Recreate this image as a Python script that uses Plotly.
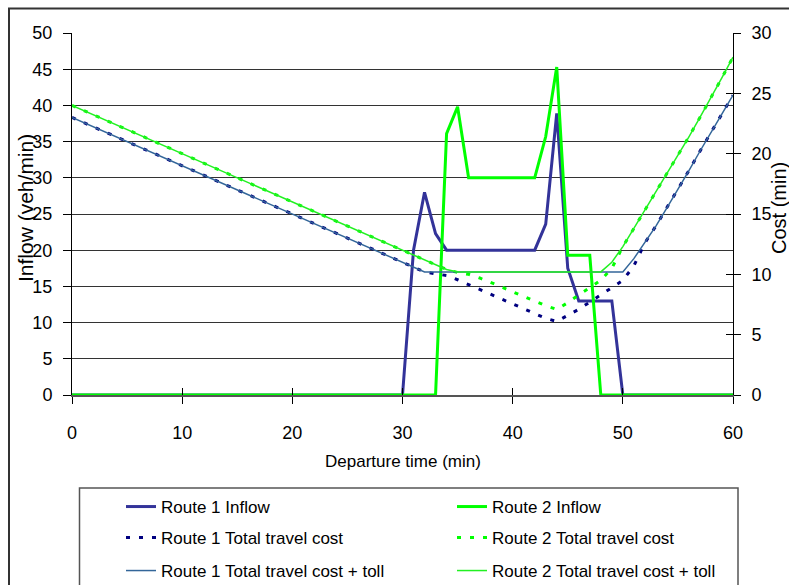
import plotly.graph_objects as go

# ---------------- data ----------------
departure_time = list(range(0, 61))

route1_inflow = [0]*31 + [20, 28, 22.3, 20, 20, 20, 20, 20, 20, 20, 20, 20, 23.6, 38.9, 17.5,
                          13, 13, 13, 13, 0, 0, 0, 0, 0, 0, 0, 0, 0, 0, 0]
route2_inflow = [0]*34 + [36.1, 39.8, 30, 30, 30, 30, 30, 30, 30, 35.7, 45.3, 19.3, 19.3, 19.3,
                          0, 0, 0, 0, 0, 0, 0, 0, 0, 0, 0, 0, 0]

route1_cost = [23.0, 22.6, 22.2, 21.8, 21.4, 21.0, 20.6, 20.2, 19.8, 19.4,
               19.0, 18.6, 18.2, 17.8, 17.4, 17.0, 16.6, 16.2, 15.8, 15.4,
               15.0, 14.6, 14.2, 13.8, 13.4, 13.0, 12.6, 12.2, 11.8, 11.4,
               11.0, 10.6, 10.2, 10.05, 9.9, 9.55, 9.15, 8.75, 8.35, 8.0,
               7.6, 7.15, 6.75, 6.35, 6.1, 6.6, 7.1, 7.7, 8.3, 8.9,
               9.5, 10.7, 12.6, 14.0, 15.5, 17.0, 18.6, 20.2, 21.7, 23.3, 24.85]
route1_cost_toll = [23.0, 22.6, 22.2, 21.8, 21.4, 21.0, 20.6, 20.2, 19.8, 19.4,
                    19.0, 18.6, 18.2, 17.8, 17.4, 17.0, 16.6, 16.2, 15.8, 15.4,
                    15.0, 14.6, 14.2, 13.8, 13.4, 13.0, 12.6, 12.2, 11.8, 11.4,
                    11.0, 10.6, 10.2, 10.2, 10.2, 10.2, 10.2, 10.2, 10.2, 10.2,
                    10.2, 10.2, 10.2, 10.2, 10.2, 10.2, 10.2, 10.2, 10.2, 10.2,
                    10.2, 11.3, 12.6, 14.0, 15.5, 17.0, 18.6, 20.2, 21.7, 23.3, 24.85]
route2_cost = [24.0, 23.6, 23.2, 22.8, 22.4, 22.0, 21.6, 21.2, 20.8, 20.4,
               20.0, 19.6, 19.2, 18.8, 18.4, 18.0, 17.6, 17.2, 16.8, 16.4,
               16.0, 15.6, 15.2, 14.8, 14.4, 14.0, 13.6, 13.2, 12.8, 12.4,
               12.0, 11.6, 11.2, 10.8, 10.4, 10.15, 10.0, 9.7, 9.35, 8.95,
               8.55, 8.15, 7.75, 7.4, 7.1, 7.65, 8.3, 8.9, 9.5, 10.5,
               12.3, 13.8, 15.3, 16.8, 18.3, 19.8, 21.4, 23.0, 24.6, 26.3, 28.0]
route2_cost_toll = [24.0, 23.6, 23.2, 22.8, 22.4, 22.0, 21.6, 21.2, 20.8, 20.4,
                    20.0, 19.6, 19.2, 18.8, 18.4, 18.0, 17.6, 17.2, 16.8, 16.4,
                    16.0, 15.6, 15.2, 14.8, 14.4, 14.0, 13.6, 13.2, 12.8, 12.4,
                    12.0, 11.6, 11.2, 10.8, 10.4, 10.2, 10.2, 10.2, 10.2, 10.2,
                    10.2, 10.2, 10.2, 10.2, 10.2, 10.2, 10.2, 10.2, 10.2, 11.0,
                    12.3, 13.8, 15.3, 16.8, 18.3, 19.8, 21.4, 23.0, 24.6, 26.3, 28.0]

x_ticks = [0, 10, 20, 30, 40, 50, 60]
inflow_ticks = [0, 5, 10, 15, 20, 25, 30, 35, 40, 45, 50]
cost_ticks = [0, 5, 10, 15, 20, 25, 30]

FONT = "Liberation Sans, Arial, sans-serif"
C_R1 = "#333399"
C_R2 = "#00FF00"
C_R1D = "#000080"
C_R1T = "#336699"
C_R2T = "#22F022"

fig = go.Figure()
fig.add_trace(go.Scatter(x=departure_time, y=route1_inflow, name="Route 1 Inflow",
                         mode="lines", line=dict(color=C_R1, width=3), legend="legend",
                         showlegend=True))
fig.add_trace(go.Scatter(x=departure_time, y=route2_inflow, name="Route 2 Inflow",
                         mode="lines", line=dict(color=C_R2, width=3), legend="legend2"))
fig.add_trace(go.Scatter(x=departure_time, y=route1_cost_toll, name="Route 1 Total travel cost + toll",
                         mode="lines", line=dict(color=C_R1T, width=1.5),
                         xaxis="x3", yaxis="y3", legend="legend5"))
fig.add_trace(go.Scatter(x=departure_time, y=route2_cost_toll, name="Route 2 Total travel cost + toll",
                         mode="lines", line=dict(color=C_R2T, width=1.5),
                         xaxis="x3", yaxis="y3", legend="legend6"))
fig.add_trace(go.Scatter(x=departure_time, y=route1_cost, name="Route 1 Total travel cost",
                         mode="lines", line=dict(color=C_R1D, width=3, dash="4px,9px"),
                         yaxis="y2", legend="legend3"))
fig.add_trace(go.Scatter(x=departure_time, y=route2_cost, name="Route 2 Total travel cost",
                         mode="lines", line=dict(color=C_R2, width=3, dash="4px,9px"),
                         yaxis="y2", legend="legend4"))

tickfont = dict(family=FONT, size=18, color="black")

leg_common = dict(orientation="v",
                  font=dict(family=FONT, size=17, color="black"),
                  bgcolor="rgba(0,0,0,0)", borderwidth=0,
                  xanchor="left", yanchor="middle")


def px_x(px):
    return (px - 72) / 661


def py(px):
    return (395 - px) / 362


col1 = px_x(121)
col2 = px_x(452)
row1, row2, row3 = py(507), py(538), py(571)

fig.update_layout(
    width=789, height=585,
    showlegend=True,
    margin=dict(l=72, r=56, t=33, b=190, autoexpand=False),
    paper_bgcolor="white", plot_bgcolor="white",
    font=dict(family=FONT, size=17, color="black"),
    xaxis=dict(range=[0, 60], tickvals=x_ticks, ticks="outside", ticklen=7, tickcolor="black",
               showline=True, linecolor="#555555", linewidth=2, showgrid=False, zeroline=False,
               tickfont=tickfont, ticklabelstandoff=13),
    xaxis3=dict(range=[0, 60], tickvals=x_ticks, overlaying="x", anchor="y", side="bottom",
                ticks="inside", ticklen=7, tickcolor="black", showticklabels=False,
                showline=False, showgrid=False, zeroline=False),
    yaxis=dict(range=[0, 50], tickvals=inflow_ticks, ticks="outside", ticklen=8, tickcolor="black",
               showline=True, linecolor="black", linewidth=1, showgrid=True, gridcolor="#333333",
               gridwidth=1, zeroline=False, tickfont=tickfont, ticklabelstandoff=7),
    yaxis2=dict(range=[0, 30], tickvals=cost_ticks, overlaying="y", side="right", anchor="x",
                ticks="outside", ticklen=7, tickcolor="black", showline=True, linecolor="black",
                linewidth=1, showgrid=False, zeroline=False, tickfont=tickfont, ticklabelstandoff=7),
    yaxis3=dict(range=[0, 30], tickvals=cost_ticks, overlaying="y", side="right", anchor="x3",
                ticks="inside", ticklen=7, tickcolor="black", showticklabels=False,
                showline=False, showgrid=False, zeroline=False),
    legend=dict(leg_common, x=col1, y=row1),
    legend2=dict(leg_common, x=col2, y=row1),
    legend3=dict(leg_common, x=col1, y=row2),
    legend4=dict(leg_common, x=col2, y=row2),
    legend5=dict(leg_common, x=col1, y=row3),
    legend6=dict(leg_common, x=col2, y=row3),
    annotations=[
        dict(text="Inflow (veh/min)", x=px_x(25), y=py(208), xref="paper", yref="paper",
             textangle=-90, showarrow=False, xanchor="center", yanchor="middle",
             font=dict(family=FONT, size=21, color="black")),
        dict(text="Cost (min)", x=px_x(779), y=py(208), xref="paper", yref="paper",
             textangle=-90, showarrow=False, xanchor="center", yanchor="middle",
             font=dict(family=FONT, size=20, color="black")),
        dict(text="Departure time (min)", x=px_x(403), y=py(461), xref="paper", yref="paper",
             showarrow=False, xanchor="center", yanchor="middle",
             font=dict(family=FONT, size=17, color="black")),
    ],
    shapes=[
        dict(type="rect", xref="paper", yref="paper",
             x0=px_x(79.5), x1=px_x(738), y0=py(488), y1=py(600),
             line=dict(color="#555555", width=1.5), fillcolor="rgba(0,0,0,0)", layer="above"),
        dict(type="rect", xref="paper", yref="paper",
             x0=px_x(9), x1=px_x(800), y0=py(8.5), y1=py(600),
             line=dict(color="#333333", width=2), fillcolor="rgba(0,0,0,0)", layer="above"),
    ],
)

fig.write_html("out.html", config={"displayModeBar": False},
               post_script="document.body.style.margin='0px';document.body.style.overflow='hidden';")
